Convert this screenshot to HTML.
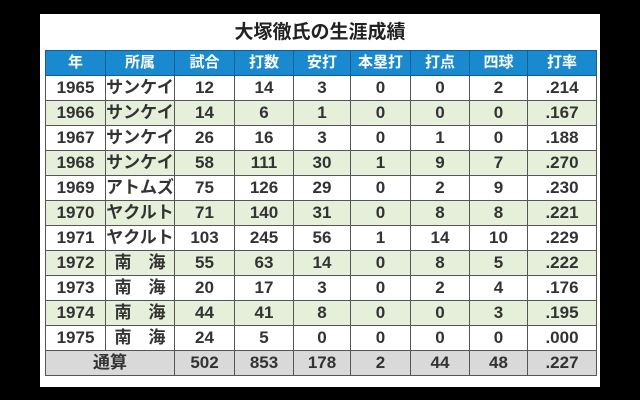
<!DOCTYPE html><html><head><meta charset="utf-8"><style>
body{margin:0;width:640px;height:400px;background:#000;position:relative;overflow:hidden;font-family:"Liberation Sans","Noto Sans CJK JP",sans-serif}
.p{position:absolute;left:40px;top:14px;width:560px;height:373px;background:#fff}
.t{position:absolute;left:0;top:8px;width:100%;text-align:center;font-size:19px;font-weight:bold;color:#222;line-height:22px}
table{position:absolute;left:45px;top:50px;border-collapse:collapse;table-layout:fixed}
td{border:1px solid #555;height:24px;padding:0;text-align:center;font-size:17px;font-weight:bold;color:#333;line-height:24px}
tr.h td{background:#1a8ad0;color:#fff;font-size:15px;border-color:#0f5f95}
tr.g td{background:#e6efd9}
tr.s td{background:#d9d9d9}
</style></head><body><div class="p"><div class="t">大塚徹氏の生涯成績</div></div>
<table>
<colgroup><col style="width:60px"><col style="width:69px"><col style="width:60px"><col style="width:59px"><col style="width:57px"><col style="width:60px"><col style="width:59px"><col style="width:58px"><col style="width:69px"></colgroup>
<tr class="h"><td>年</td><td>所属</td><td>試合</td><td>打数</td><td>安打</td><td>本塁打</td><td>打点</td><td>四球</td><td>打率</td></tr>
<tr><td>1965</td><td>サンケイ</td><td>12</td><td>14</td><td>3</td><td>0</td><td>0</td><td>2</td><td>.214</td></tr>
<tr class="g"><td>1966</td><td>サンケイ</td><td>14</td><td>6</td><td>1</td><td>0</td><td>0</td><td>0</td><td>.167</td></tr>
<tr><td>1967</td><td>サンケイ</td><td>26</td><td>16</td><td>3</td><td>0</td><td>1</td><td>0</td><td>.188</td></tr>
<tr class="g"><td>1968</td><td>サンケイ</td><td>58</td><td>111</td><td>30</td><td>1</td><td>9</td><td>7</td><td>.270</td></tr>
<tr><td>1969</td><td>アトムズ</td><td>75</td><td>126</td><td>29</td><td>0</td><td>2</td><td>9</td><td>.230</td></tr>
<tr class="g"><td>1970</td><td>ヤクルト</td><td>71</td><td>140</td><td>31</td><td>0</td><td>8</td><td>8</td><td>.221</td></tr>
<tr><td>1971</td><td>ヤクルト</td><td>103</td><td>245</td><td>56</td><td>1</td><td>14</td><td>10</td><td>.229</td></tr>
<tr class="g"><td>1972</td><td>南　海</td><td>55</td><td>63</td><td>14</td><td>0</td><td>8</td><td>5</td><td>.222</td></tr>
<tr><td>1973</td><td>南　海</td><td>20</td><td>17</td><td>3</td><td>0</td><td>2</td><td>4</td><td>.176</td></tr>
<tr class="g"><td>1974</td><td>南　海</td><td>44</td><td>41</td><td>8</td><td>0</td><td>0</td><td>3</td><td>.195</td></tr>
<tr><td>1975</td><td>南　海</td><td>24</td><td>5</td><td>0</td><td>0</td><td>0</td><td>0</td><td>.000</td></tr>
<tr class="s"><td colspan="2">通算</td><td>502</td><td>853</td><td>178</td><td>2</td><td>44</td><td>48</td><td>.227</td></tr>
</table></body></html>
